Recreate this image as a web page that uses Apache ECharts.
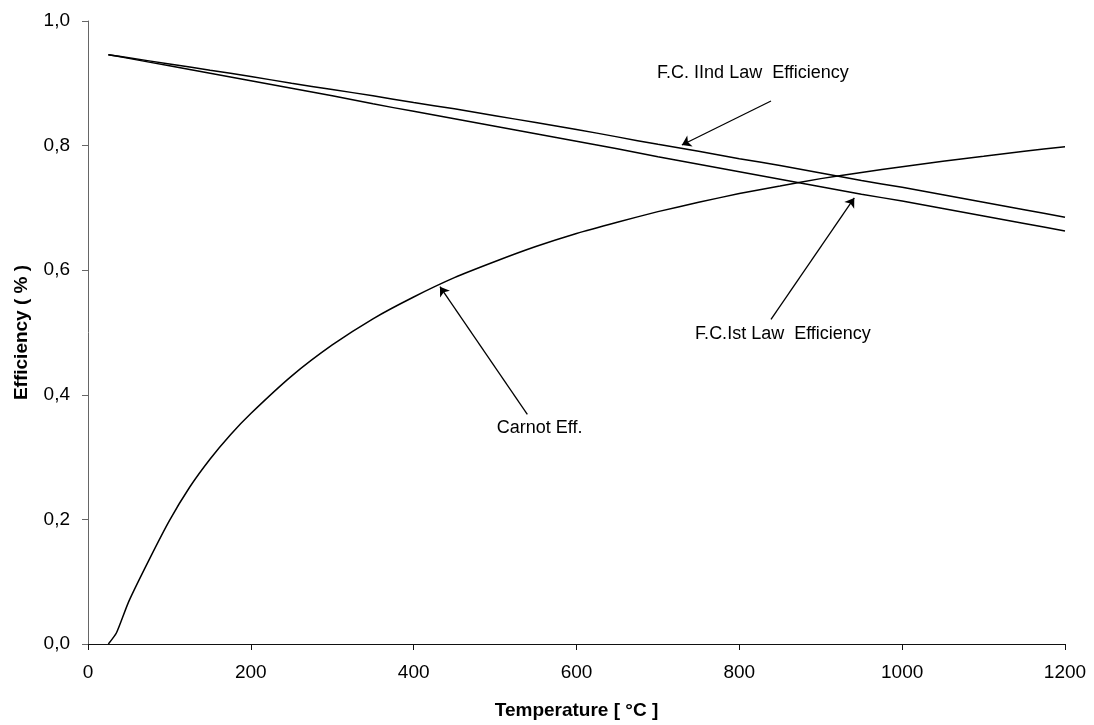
<!DOCTYPE html>
<html>
<head>
<meta charset="utf-8">
<script src="https://cdn.jsdelivr.net/npm/echarts@6/dist/echarts.min.js"></script>
<style>
  html, body { margin: 0; padding: 0; background: #ffffff; }
  #chart { width: 1094px; height: 725px; }
</style>
</head>
<body>
<div id="chart"></div>
<script>
// Temperature grid (°C) for the Carnot curve
const carnotTemps = [25, 35, 50, 75, 100, 125, 150, 175, 200, 250, 300, 350, 400, 450, 500, 550, 600, 650, 700, 750, 800, 850, 900, 950, 1000, 1050, 1100, 1150, 1200];
const carnotEff   = [0.000, 0.018, 0.068, 0.135, 0.198, 0.252, 0.297, 0.336, 0.370, 0.430, 0.480, 0.522, 0.557, 0.588, 0.614, 0.638, 0.659, 0.677, 0.694, 0.709, 0.723, 0.735, 0.747, 0.757, 0.766, 0.775, 0.783, 0.791, 0.798];

// Temperature grid (°C) for the two fuel-cell curves
const fcTemps = [25, 50, 100, 150, 200, 250, 300, 350, 400, 450, 500, 550, 600, 650, 700, 750, 800, 850, 900, 950, 1000, 1050, 1100, 1150, 1200];
const fcSecondLaw = [0.946, 0.941, 0.931, 0.921, 0.911, 0.900, 0.890, 0.880, 0.869, 0.859, 0.848, 0.837, 0.826, 0.814, 0.802, 0.791, 0.779, 0.768, 0.756, 0.744, 0.733, 0.721, 0.709, 0.697, 0.685];
const fcFirstLaw  = [0.946, 0.940, 0.928, 0.916, 0.904, 0.892, 0.880, 0.867, 0.855, 0.843, 0.831, 0.819, 0.807, 0.795, 0.782, 0.770, 0.758, 0.746, 0.734, 0.722, 0.711, 0.699, 0.687, 0.675, 0.663];

// Axis ticks
const xTicks = [0, 200, 400, 600, 800, 1000, 1200];
const yTicks = [0.0, 0.2, 0.4, 0.6, 0.8, 1.0];

// Callout labels and their arrows, in data units (°C, efficiency)
const calloutTexts = ['F.C. IInd Law  Efficiency', 'F.C.Ist Law  Efficiency', 'Carnot Eff.'];
const calloutAnchors = [[699, 0.917], [745.7, 0.4976], [502, 0.347]];
const arrowTails = [[838.9, 0.8716], [838.9, 0.521], [539.6, 0.3687]];
const arrowHeads = [[729.4, 0.801], [941.2, 0.716], [432.3, 0.5735]];

const FONT = '"Liberation Sans", Arial, Helvetica, sans-serif';

function pairs(xs, ys) { return xs.map((x, i) => [x, ys[i]]); }

const curveStyle = { color: '#000000', width: 1.5 };

const chart = echarts.init(document.getElementById('chart'), null, { renderer: 'canvas' });

chart.setOption({
  animation: false,
  backgroundColor: '#ffffff',
  grid: { left: 88, right: 29, top: 21, bottom: 81, containLabel: false },
  xAxis: {
    type: 'value',
    min: xTicks[0],
    max: xTicks[xTicks.length - 1],
    interval: xTicks[1] - xTicks[0],
    name: 'Temperature [ °C ]',
    nameLocation: 'middle',
    nameGap: 57,
    nameTextStyle: { fontFamily: FONT, fontSize: 19, fontWeight: 'bold', color: '#000' },
    axisLine: { show: true, lineStyle: { color: '#111', width: 1 } },
    axisTick: { show: true, inside: false, length: 6, lineStyle: { color: '#111' } },
    axisLabel: { margin: 19, fontFamily: FONT, fontSize: 19, color: '#000', formatter: v => String(v) },
    splitLine: { show: false }
  },
  yAxis: {
    type: 'value',
    min: yTicks[0],
    max: yTicks[yTicks.length - 1],
    interval: yTicks[1] - yTicks[0],
    name: 'Efficiency ( % )',
    nameLocation: 'middle',
    nameRotate: 90,
    nameGap: 57,
    nameTextStyle: { fontFamily: FONT, fontSize: 19, fontWeight: 'bold', color: '#000' },
    axisLine: { show: true, lineStyle: { color: '#666', width: 1 } },
    axisTick: { show: true, inside: false, length: 6, lineStyle: { color: '#666' } },
    axisLabel: {
      margin: 18, fontFamily: FONT, fontSize: 19, color: '#000',
      formatter: v => v.toFixed(1).replace('.', ',')
    },
    splitLine: { show: false }
  },
  series: [
    {
      name: 'Carnot Eff.',
      type: 'line',
      data: pairs(carnotTemps, carnotEff),
      smooth: 0.2,
      showSymbol: false,
      lineStyle: curveStyle,
      z: 3,
      markPoint: {
        silent: true,
        symbol: 'circle',
        symbolSize: 0,
        data: calloutTexts.map((t, i) => ({
          coord: calloutAnchors[i],
          label: {
            show: true, position: 'right', distance: 0,
            formatter: t, fontFamily: FONT, fontSize: 18, color: '#000'
          }
        }))
      },
      markLine: {
        silent: true,
        symbol: ['none', 'arrow'],
        symbolSize: 9,
        label: { show: false },
        lineStyle: { color: '#000', width: 1.3, type: 'solid' },
        itemStyle: { color: '#000' },
        data: arrowTails.map((a, i) => [{ coord: a }, { coord: arrowHeads[i] }])
      }
    },
    {
      name: 'F.C. IInd Law Efficiency',
      type: 'line',
      data: pairs(fcTemps, fcSecondLaw),
      smooth: 0.2,
      showSymbol: false,
      lineStyle: curveStyle,
      z: 3
    },
    {
      name: 'F.C. Ist Law Efficiency',
      type: 'line',
      data: pairs(fcTemps, fcFirstLaw),
      smooth: 0.2,
      showSymbol: false,
      lineStyle: curveStyle,
      z: 3
    }
  ]
});
</script>
</body>
</html>
